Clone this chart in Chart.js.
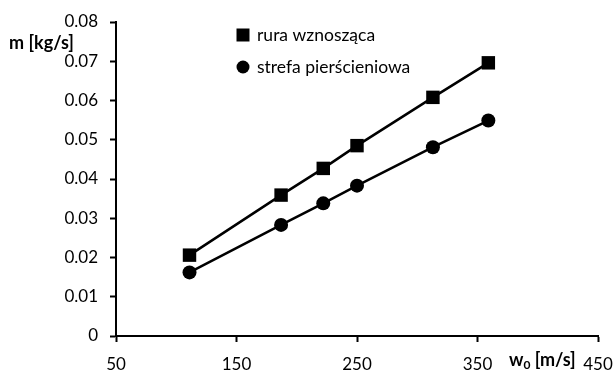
<!DOCTYPE html>
<html>
<head>
<meta charset="utf-8">
<script src="https://cdn.jsdelivr.net/npm/chart.js@4/dist/chart.umd.min.js"></script>
<style>
  html, body { margin: 0; padding: 0; background: #fff; }
  #wrap { width: 614px; height: 372px; position: relative; }
</style>
</head>
<body>
<div id="wrap"><canvas id="c" width="614" height="372"></canvas></div>
<script>
const w0Values = [111, 187, 222, 250, 313, 359];
const ruraValues = [0.0206, 0.0359, 0.0427, 0.0485, 0.0608, 0.0696];
const strefaValues = [0.0162, 0.0283, 0.0338, 0.0383, 0.0481, 0.0549];
const seriesLabels = ['rura wznosząca', 'strefa pierścieniowa'];
const xTicks = [50, 150, 250, 350, 450];
const yTicks = [0, 0.01, 0.02, 0.03, 0.04, 0.05, 0.06, 0.07, 0.08];
const yTitle = 'm [kg/s]';
const xTitleMain = 'w';
const xTitleSub = '0';
const xTitleRest = ' [m/s]';

const FONT = 'Lato, "Open Sans", sans-serif';

const toPoints = (xs, ys) => xs.map((x, i) => ({ x: x, y: ys[i] }));

const overlay = {
  id: 'overlay',
  afterDraw(chart) {
    const ctx = chart.ctx;
    ctx.save();
    ctx.fillStyle = '#000';
    ctx.textBaseline = 'middle';
    // y title
    ctx.font = 'bold 18px ' + FONT;
    ctx.textAlign = 'left';
    ctx.fillText(yTitle, 9, 43);
    // x title with subscript
    let x = 509, y = 360;
    ctx.fillText(xTitleMain, x, y);
    x += ctx.measureText(xTitleMain).width;
    ctx.font = 'bold 12px ' + FONT;
    ctx.fillText(xTitleSub, x, y + 5);
    x += ctx.measureText(xTitleSub).width;
    ctx.font = 'bold 18px ' + FONT;
    ctx.fillText(xTitleRest, x, y);
    // legend
    ctx.font = '17.5px ' + FONT;
    const items = chart.data.datasets;
    const lx = 243, ly = [35, 67];
    items.forEach((ds, i) => {
      const cy = ly[i];
      ctx.beginPath();
      if (ds.pointStyle === 'rect') {
        ctx.rect(lx - 6.5, cy - 6.5, 13, 13);
      } else {
        ctx.arc(lx, cy, 6.5, 0, Math.PI * 2);
      }
      ctx.fill();
      ctx.fillText(ds.label, 257, cy);
    });
    ctx.restore();
  }
};

new Chart(document.getElementById('c'), {
  type: 'scatter',
  data: {
    datasets: [
      {
        label: seriesLabels[0],
        data: toPoints(w0Values, ruraValues),
        showLine: true,
        borderColor: '#000',
        backgroundColor: '#000',
        borderWidth: 2.5,
        pointStyle: 'rect',
        pointRadius: 9.5,
        pointBorderWidth: 0,
        pointHoverRadius: 9.5
      },
      {
        label: seriesLabels[1],
        data: toPoints(w0Values, strefaValues),
        showLine: true,
        borderColor: '#000',
        backgroundColor: '#000',
        borderWidth: 2.5,
        pointStyle: 'circle',
        pointRadius: 7,
        pointBorderWidth: 0,
        pointHoverRadius: 7
      }
    ]
  },
  options: {
    responsive: false,
    animation: false,
    layout: { padding: { top: 22, right: 16, left: 0, bottom: 0 } },
    plugins: {
      legend: { display: false },
      tooltip: { enabled: false }
    },
    scales: {
      x: {
        type: 'linear',
        min: xTicks[0],
        max: xTicks[xTicks.length - 1],
        afterBuildTicks: (s) => { s.ticks = xTicks.map(v => ({ value: v })); },
        afterFit: (s) => { s.height = 36; s.paddingRight = 0; s.paddingLeft = 0; },
        border: { display: true, color: '#000', width: 2 },
        grid: { display: true, drawOnChartArea: false, drawTicks: true, tickLength: 6, tickColor: '#000', tickWidth: 2 },
        ticks: { color: '#000', font: { family: FONT, size: 17 }, padding: 12, maxRotation: 0 }
      },
      y: {
        type: 'linear',
        min: yTicks[0],
        max: yTicks[yTicks.length - 1],
        afterBuildTicks: (s) => { s.ticks = yTicks.map(v => ({ value: v })); },
        afterFit: (s) => { s.width = 116; s.paddingTop = 0; s.paddingBottom = 0; },
        border: { display: true, color: '#000', width: 2 },
        grid: { display: true, drawOnChartArea: false, drawTicks: true, tickLength: 6, tickColor: '#000', tickWidth: 2 },
        ticks: {
          color: '#000',
          font: { family: FONT, size: 17 },
          padding: 12,
          callback: (v) => v === 0 ? '0' : v.toFixed(2)
        }
      }
    }
  },
  plugins: [overlay]
});
</script>
</body>
</html>
